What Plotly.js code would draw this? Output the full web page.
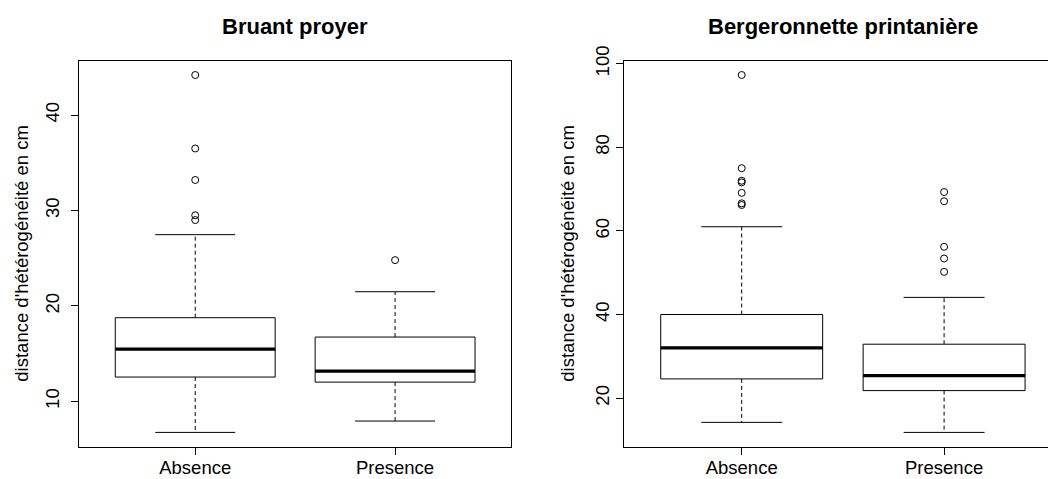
<!DOCTYPE html>
<html>
<head>
<meta charset="utf-8">
<script src="https://cdn.plot.ly/plotly-3.0.1.min.js"></script>
<style>
  html, body { margin: 0; padding: 0; background: #ffffff; overflow: hidden; }
  #chart { width: 1100px; height: 479px; }
</style>
</head>
<body>
<div id="chart"></div>
<script>
// Groups on the x axis
const categories = ['Absence', 'Presence'];

// Bruant proyer: box statistics per group
const bruantQ1 = [12.55, 12.02];
const bruantMedian = [15.48, 13.18];
const bruantQ3 = [18.77, 16.74];
const bruantLower = [6.75, 7.94];
const bruantUpper = [27.47, 21.49];
const bruantOutliers = [[44.2, 36.5, 33.2, 29.5, 29.0], [24.8]];

// Bergeronnette printanière: box statistics per group
const bergQ1 = [24.6, 21.8];
const bergMedian = [32.0, 25.4];
const bergQ3 = [40.0, 32.9];
const bergLower = [14.2, 11.8];
const bergUpper = [61.0, 44.1];
const bergOutliers = [[97.3, 75.0, 72.0, 71.6, 69.1, 66.6, 66.2], [69.3, 67.1, 56.2, 53.4, 50.2]];

// Tick values on the value axes
const bruantTicks = [10, 20, 30, 40];
const bergTicks = [20, 40, 60, 80, 100];

const titles = ['Bruant proyer', 'Bergeronnette printanière'];
const yLabel = "distance d'hétérogénéité en cm";

// Page geometry (pixels)
const W = 1100, H = 479;
const FONT = 'Liberation Sans, Arial, Helvetica, sans-serif';
const BOXHALF = 0.4, STAPLEHALF = 0.2;

function px2x(p) { return p / W; }
function px2y(p) { return 1 - p / H; }

function panelTraces(q1, med, q3, lo, hi, outs, xa, ya) {
  const traces = [];
  categories.forEach((c, i) => {
    const pos = i + 1;
    // box body (quartiles) drawn by the box trace
    traces.push({
      type: 'box', x: [pos], q1: [q1[i]], median: [med[i]], q3: [q3[i]],
      lowerfence: [q1[i]], upperfence: [q3[i]],
      width: 2 * BOXHALF, whiskerwidth: 0,
      fillcolor: 'rgba(255,255,255,0)',
      line: { color: '#000000', width: 1 },
      xaxis: xa, yaxis: ya, showlegend: false, hoverinfo: 'skip'
    });
    // heavy median line
    traces.push({
      type: 'scatter', mode: 'lines',
      x: [pos - BOXHALF, pos + BOXHALF], y: [med[i], med[i]],
      line: { color: '#000000', width: 3.2 },
      xaxis: xa, yaxis: ya, showlegend: false, hoverinfo: 'skip'
    });
    // dashed whiskers
    traces.push({
      type: 'scatter', mode: 'lines',
      x: [pos, pos, null, pos, pos], y: [q3[i], hi[i], null, q1[i], lo[i]],
      line: { color: '#000000', width: 1, dash: '4px,3px' },
      xaxis: xa, yaxis: ya, showlegend: false, hoverinfo: 'skip'
    });
    // staples
    traces.push({
      type: 'scatter', mode: 'lines',
      x: [pos - STAPLEHALF, pos + STAPLEHALF, null, pos - STAPLEHALF, pos + STAPLEHALF],
      y: [hi[i], hi[i], null, lo[i], lo[i]],
      line: { color: '#000000', width: 1 },
      xaxis: xa, yaxis: ya, showlegend: false, hoverinfo: 'skip'
    });
    // outlying points
    traces.push({
      type: 'scatter', mode: 'markers',
      x: outs[i].map(() => pos), y: outs[i],
      marker: { symbol: 'circle-open', size: 7, color: '#000000', line: { width: 1, color: '#000000' } },
      xaxis: xa, yaxis: ya, showlegend: false, hoverinfo: 'skip'
    });
  });
  return traces;
}

// value range with a 4% pad on both sides
function paddedRange(lo, hi, outs) {
  const all = lo.concat(hi, outs.flat());
  const mn = Math.min(...all), mx = Math.max(...all);
  const pad = (mx - mn) * 0.04;
  return [mn - pad, mx + pad];
}

const data = [].concat(
  panelTraces(bruantQ1, bruantMedian, bruantQ3, bruantLower, bruantUpper, bruantOutliers, 'x', 'y'),
  panelTraces(bergQ1, bergMedian, bergQ3, bergLower, bergUpper, bergOutliers, 'x2', 'y2')
);

const yDom = [px2y(446.7), px2y(60.7)];

function xAxis(domain) {
  return {
    domain: domain, range: [0.42, 2.58], tickmode: 'array',
    tickvals: [1, 2], ticktext: categories,
    ticks: 'outside', ticklen: 7, tickwidth: 1, tickcolor: '#000000',
    ticklabelstandoff: -3,
    showline: true, mirror: true, linecolor: '#000000', linewidth: 1,
    showgrid: false, zeroline: false, fixedrange: true,
    tickfont: { family: FONT, size: 18.5, color: '#000000' }
  };
}
function yAxis(range, ticks, anchor, standoff) {
  return {
    domain: yDom, range: range, anchor: anchor, tickmode: 'array', tickvals: ticks,
    ticks: 'outside', ticklen: 7, tickwidth: 1, tickcolor: '#000000', tickangle: -90,
    ticklabelstandoff: standoff,
    showline: true, mirror: true, linecolor: '#000000', linewidth: 1,
    showgrid: false, zeroline: false, fixedrange: true,
    tickfont: { family: FONT, size: 18.5, color: '#000000' }
  };
}

const layout = {
  width: W, height: H,
  margin: { l: 0, r: 0, t: 0, b: 0 },
  paper_bgcolor: '#ffffff', plot_bgcolor: '#ffffff',
  showlegend: false,
  boxgap: 0,
  xaxis: Object.assign(xAxis([px2x(79.3), px2x(511)]), { anchor: 'y' }),
  yaxis: yAxis(paddedRange(bruantLower, bruantUpper, bruantOutliers), bruantTicks, 'x', 5),
  xaxis2: Object.assign(xAxis([px2x(624.3), px2x(1061.5)]), { anchor: 'y2' }),
  yaxis2: yAxis(paddedRange(bergLower, bergUpper, bergOutliers), bergTicks, 'x2', 0),
  annotations: [
    { text: '<b>' + titles[0] + '</b>', xref: 'paper', yref: 'paper', x: px2x(295), y: px2y(27),
      xanchor: 'center', yanchor: 'middle', showarrow: false,
      font: { family: FONT, size: 22, color: '#000000' } },
    { text: '<b>' + titles[1] + '</b>', xref: 'paper', yref: 'paper', x: px2x(843), y: px2y(27),
      xanchor: 'center', yanchor: 'middle', showarrow: false,
      font: { family: FONT, size: 22, color: '#000000' } },
    { text: yLabel, xref: 'paper', yref: 'paper', x: px2x(22), y: px2y(253.7), textangle: -90,
      xanchor: 'center', yanchor: 'middle', showarrow: false,
      font: { family: FONT, size: 18.5, color: '#000000' } },
    { text: yLabel, xref: 'paper', yref: 'paper', x: px2x(568), y: px2y(253.7), textangle: -90,
      xanchor: 'center', yanchor: 'middle', showarrow: false,
      font: { family: FONT, size: 18.5, color: '#000000' } }
  ]
};

Plotly.newPlot('chart', data, layout, { displayModeBar: false, staticPlot: true });
</script>
</body>
</html>
